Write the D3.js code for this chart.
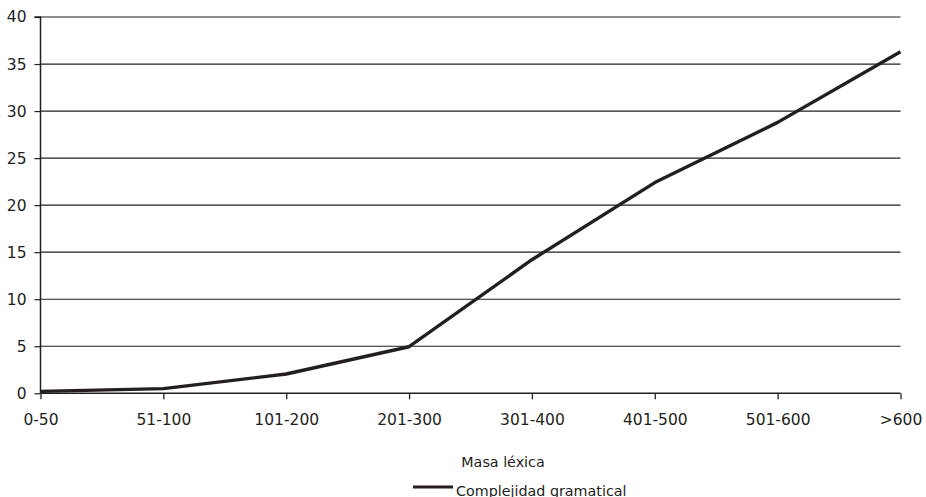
<!DOCTYPE html>
<html>
<head>
<meta charset="utf-8">
<script src="https://cdn.jsdelivr.net/npm/d3@7"></script>
<style>
  html, body { margin: 0; padding: 0; background: #fff; }
  svg { display: block; }
  text { font-family: "DejaVu Sans", sans-serif; fill: #231f20; }
</style>
</head>
<body>
<svg id="chart" width="926" height="497"></svg>
<script>
const categories = ["0-50", "51-100", "101-200", "201-300", "301-400", "401-500", "501-600", ">600"];
const values = [0.2, 0.5, 2.05, 4.95, 14.2, 22.4, 28.8, 36.3];
const yTicks = [0, 5, 10, 15, 20, 25, 30, 35, 40];
const seriesName = "Complejidad gramatical";
const xTitle = "Masa léxica";

const svg = d3.select("#chart");
const mLeft = 40.5, mRight = 900.5, mTop = 17, mBottom = 393.3;
const ink = "#231f20";

const x = d3.scalePoint().domain(categories).range([mLeft, mRight]);
const y = d3.scaleLinear().domain([0, 40]).range([mBottom, mTop]);

// gridlines
svg.append("g").selectAll("line").data(yTicks.filter(d => d > 0)).join("line")
  .attr("x1", mLeft).attr("x2", mRight)
  .attr("y1", d => y(d)).attr("y2", d => y(d))
  .attr("stroke", ink).attr("stroke-width", 1.2);

// y axis
const yAxis = svg.append("g").attr("transform", `translate(${mLeft},0)`)
  .call(d3.axisLeft(y).tickValues(yTicks).tickSize(6).tickPadding(8).tickFormat(d3.format("d")));
yAxis.select(".domain").attr("stroke", ink).attr("stroke-width", 1.5).attr("d", `M-6,${y(40)}H0V${y(0)}`);
yAxis.selectAll(".tick line").attr("stroke", ink).attr("stroke-width", 1.2);
yAxis.selectAll(".tick text").attr("font-size", "15.5px").attr("font-family", "DejaVu Sans").attr("fill", ink);

// x axis
const xAxis = svg.append("g").attr("transform", `translate(0,${mBottom})`)
  .call(d3.axisBottom(x).tickSize(6).tickPadding(15));
xAxis.select(".domain").attr("stroke", ink).attr("stroke-width", 1.5).attr("d", `M${mLeft},0H${mRight}`);
xAxis.selectAll(".tick line").attr("stroke", ink).attr("stroke-width", 1.3);
xAxis.selectAll(".tick text").attr("font-size", "15.5px").attr("font-family", "DejaVu Sans").attr("fill", ink);

// series line
const line = d3.line().x((d, i) => x(categories[i])).y(d => y(d));
svg.append("path").datum(values)
  .attr("d", line)
  .attr("fill", "none")
  .attr("stroke", ink)
  .attr("stroke-width", 3.4)
  .attr("stroke-linejoin", "round");

// x title
svg.append("text").attr("x", 503).attr("y", 467)
  .attr("text-anchor", "middle").attr("font-size", "14.3px").text(xTitle);

// legend
svg.append("line").attr("x1", 413).attr("x2", 453).attr("y1", 487).attr("y2", 487)
  .attr("stroke", ink).attr("stroke-width", 3.2);
svg.append("text").attr("x", 456).attr("y", 496)
  .attr("font-size", "14.3px").text(seriesName);
</script>
</body>
</html>
